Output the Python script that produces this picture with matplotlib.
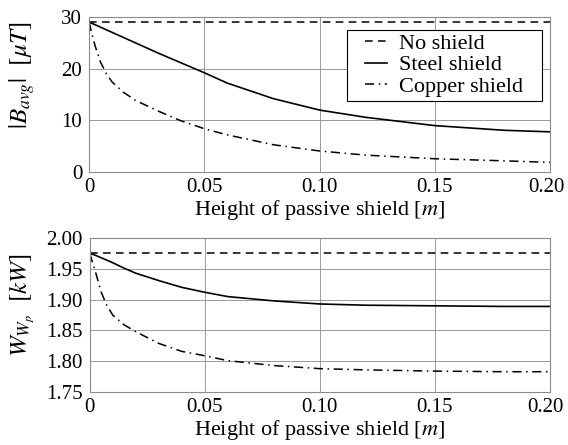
import matplotlib
matplotlib.use("Agg")
import matplotlib.pyplot as plt
from matplotlib.patches import Rectangle
from matplotlib.transforms import ScaledTranslation

plt.rcParams["font.family"] = ["Liberation Serif", "DejaVu Serif"]
plt.rcParams["mathtext.fontset"] = "stix"
plt.rcParams["font.size"] = 16

# shield height [m]
height = [0.0, 0.001, 0.0025, 0.005, 0.0075, 0.01, 0.015, 0.02, 0.03, 0.04,
          0.05, 0.06, 0.08, 0.10, 0.12, 0.15, 0.18, 0.20]

# average flux density |B_avg| [uT]
b_none = [29.0] * len(height)
b_steel = [29.0, 28.8, 28.5, 28.0, 27.5, 27.0, 26.0, 25.0, 23.0, 21.1,
           19.2, 17.2, 14.2, 12.0, 10.6, 9.0, 8.1, 7.8]
b_copper = [29.0, 27.0, 24.5, 21.2, 19.0, 17.4, 15.4, 13.9, 11.8, 9.9,
            8.4, 7.2, 5.3, 4.1, 3.3, 2.6, 2.2, 1.9]

# power W_Wp [kW]
w_none = [1.975] * len(height)
w_steel = [1.975, 1.974, 1.972, 1.968, 1.964, 1.960, 1.951, 1.943, 1.931, 1.920,
           1.912, 1.905, 1.898, 1.893, 1.891, 1.890, 1.889, 1.889]
w_copper = [1.975, 1.963, 1.945, 1.912, 1.890, 1.875, 1.859, 1.848, 1.829, 1.816,
            1.809, 1.801, 1.793, 1.788, 1.786, 1.784, 1.783, 1.783]

x_ticks = [0, 0.05, 0.10, 0.15, 0.20]
x_ticklabels = ["0", "0.05", "0.10", "0.15", "0.20"]

DASHED = (0, (5, 3.5))
DASHDOT = (0, (6, 3, 1, 3))


def style_axes(fig, ax):
    ax.set_xlim(0, 0.2)
    ax.set_xticks(x_ticks)
    ax.set_xticklabels(x_ticklabels)
    ax.grid(True, color="#9a9a9a", linewidth=0.7)
    ax.tick_params(length=0, labelsize=15)
    ax.tick_params(axis="x", pad=4)
    ax.tick_params(axis="y", pad=5)
    for sp in ax.spines.values():
        sp.set_color("#8a8a8a")
        sp.set_linewidth(0.8)
    ax.set_xlabel("Height of passive shield [$m$]", labelpad=1)
    # keep the last label inside the canvas
    last = ax.get_xticklabels()[-1]
    last.set_transform(last.get_transform()
                       + ScaledTranslation(-0.04, 0, fig.dpi_scale_trans))


fig = plt.figure(figsize=(5.68, 4.45), dpi=100)
ax1 = fig.add_axes([0.157, 0.613, 0.8116, 0.349])
ax2 = fig.add_axes([0.158, 0.119, 0.8099, 0.346])

ax1.plot(height, b_none, color="black", lw=1.1, linestyle=DASHED, label="No shield")
ax1.plot(height, b_steel, color="black", lw=1.2, label="Steel shield")
ax1.plot(height, b_copper, color="black", lw=1.1, linestyle=DASHDOT, label="Copper shield")
ax1.set_ylim(0, 30)
ax1.set_yticks([0, 10, 20, 30])
style_axes(fig, ax1)
ax1.set_ylabel(r"$|B_{avg}|\ \ [\mu T]$", fontsize=18)
ax1.yaxis.set_label_coords(-0.1126, 0.626)

leg = ax1.legend(loc="center", bbox_to_anchor=(0.7695, 0.69), frameon=False,
                 handlelength=1.0, handletextpad=0.55, borderpad=0,
                 labelspacing=0.05, borderaxespad=0)
leg.set_zorder(6)

ax2.plot(height, w_none, color="black", lw=1.1, linestyle=DASHED)
ax2.plot(height, w_steel, color="black", lw=1.2)
ax2.plot(height, w_copper, color="black", lw=1.1, linestyle=DASHDOT)
ax2.set_ylim(1.75, 2.0)
ax2.set_yticks([1.75, 1.80, 1.85, 1.90, 1.95, 2.00])
ax2.set_yticklabels(["1.75", "1.80", "1.85", "1.90", "1.95", "2.00"])
style_axes(fig, ax2)
ax2.set_ylabel(r"$W_{W_p}\ \ [kW]$", fontsize=18)
ax2.yaxis.set_label_coords(-0.1147, 0.565)

# legend box: wider padding at the sides than above and below
fig.canvas.draw()
bb = leg.get_window_extent(fig.canvas.get_renderer())
x0, x1 = bb.x0 - 18, bb.x1 + 19
yc = (bb.y0 + bb.y1) / 2
y0, y1 = yc - 35.5, yc + 35.5
W, H = fig.bbox.width, fig.bbox.height
box = Rectangle((x0 / W, y0 / H), (x1 - x0) / W, (y1 - y0) / H,
                transform=fig.transFigure, facecolor="white",
                edgecolor="black", linewidth=0.8, zorder=5)
ax1.add_artist(box)

fig.savefig("out.png", dpi=100)
